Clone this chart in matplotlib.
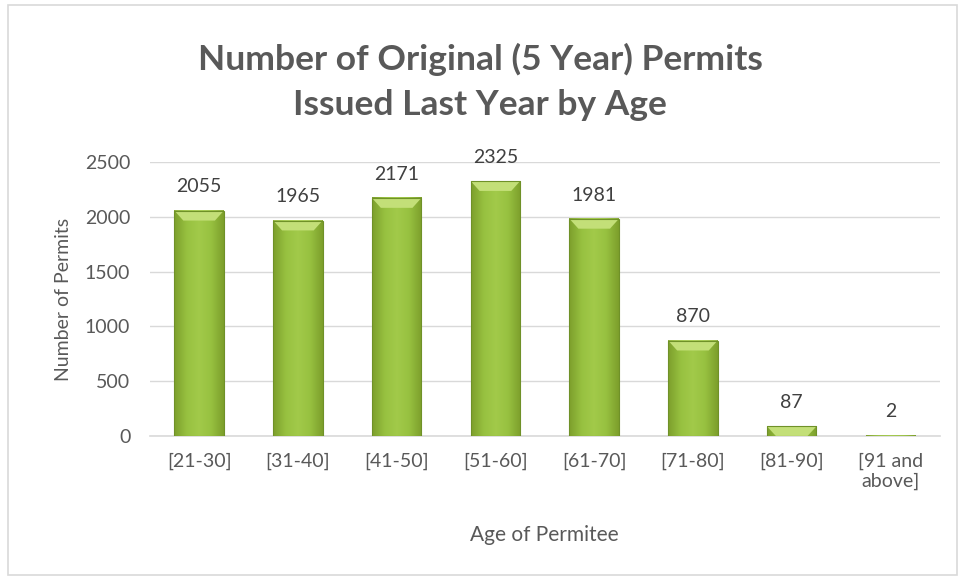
import numpy as np
import matplotlib.pyplot as plt
from matplotlib.patches import Rectangle, Polygon
from matplotlib.colors import LinearSegmentedColormap

plt.rcParams['font.family'] = ['Lato', 'DejaVu Sans']

# Data
age_groups = ['[21-30]', '[31-40]', '[41-50]', '[51-60]', '[61-70]', '[71-80]', '[81-90]', '[91 and\nabove]']
permits = [2055, 1965, 2171, 2325, 1981, 870, 87, 2]
y_ticks = [0, 500, 1000, 1500, 2000, 2500]

text_color = '#595959'
grid_color = '#D9D9D9'

fig = plt.figure(figsize=(9.6, 5.77), dpi=100)
# chart border
fig.patches.append(Rectangle((8 / 960, 2 / 577), 949 / 960, 570 / 577, transform=fig.transFigure,
                             fill=False, edgecolor='#D9D9D9', linewidth=1.2))

ax = fig.add_axes([0.156, 0.2444, 0.823, 0.475])
x = np.arange(len(age_groups))
width = 0.5
bars = ax.bar(x, permits, width=width, color='none', edgecolor='#6F9128', linewidth=0.8, zorder=5)

# horizontal gradient fill: darker edges, lighter middle
grad = LinearSegmentedColormap.from_list('g', ['#7D9F2C', '#97C140', '#A2CA4A', '#97C140', '#7D9F2C'])
row = np.linspace(0, 1, 64).reshape(1, -1)
for b in bars:
    h = b.get_height()
    x0, x1 = b.get_x(), b.get_x() + b.get_width()
    ax.imshow(row, cmap=grad, extent=(x0, x1, 0, h), aspect='auto', zorder=3, interpolation='bicubic')
    # top bevel
    bev = min(h, 90)
    ins = 0.09
    ax.add_patch(Polygon([(x0, h), (x1, h), (x1 - ins, h - bev), (x0 + ins, h - bev)],
                         closed=True, facecolor='#C3DF78', edgecolor='none', zorder=4))

for xi, v in zip(x, permits):
    ax.annotate(str(v), (xi, v), xytext=(0, 11), textcoords='offset points',
                ha='center', va='bottom', fontsize=14, color='#404040')

ax.set_ylim(0, 2500)
ax.set_xlim(-0.5, len(age_groups) - 0.5)
ax.set_yticks(y_ticks)
ax.set_xticks(x)
ax.set_xticklabels(age_groups, fontsize=14, color=text_color)
ax.tick_params(axis='y', labelsize=14, labelcolor=text_color, length=0, pad=14)
ax.tick_params(axis='x', length=0, pad=12)
ax.yaxis.grid(True, color=grid_color, linewidth=1, zorder=0)
for s in ['top', 'right', 'left']:
    ax.spines[s].set_visible(False)
ax.spines['bottom'].set_color(grid_color)
ax.spines['bottom'].set_linewidth(1.2)

ax.set_ylabel('Number of Permits', fontsize=14, color=text_color, labelpad=9)
ax.set_xlabel('Age of Permitee', fontsize=15, color=text_color, labelpad=25)

fig.text(0.5, 0.858, 'Number of Original (5 Year) Permits\nIssued Last Year by Age', ha='center', va='center',
         fontsize=25.5, fontweight='bold', color=text_color, linespacing=1.5)

fig.savefig('out.png', dpi=100)
